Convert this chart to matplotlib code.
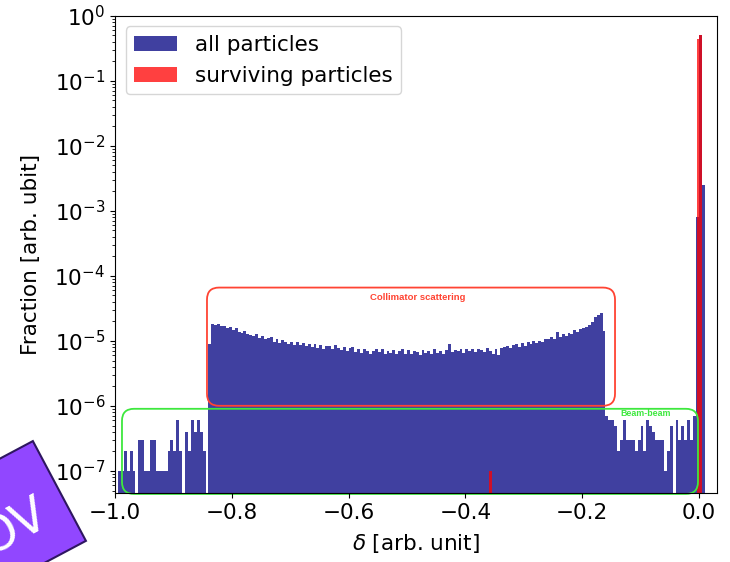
import numpy as np
import matplotlib
matplotlib.use("Agg")
import matplotlib.pyplot as plt
import matplotlib.transforms as mtransforms
from matplotlib.patches import FancyBboxPatch, Rectangle

# ------------------------------------------------------------
# Data: counts per 1e7 tracked particles, bin width 0.005 in delta
# ------------------------------------------------------------
n_particles = 1e7
bin_width = 0.005

# delta in [-1.0, -0.84): sparse tail
tail_counts = [0, 1, 1, 2, 1, 2, 1, 0, 3, 3,
               1, 1, 3, 3, 1, 1, 1, 1, 2, 3,
               2, 6, 2, 0, 4, 2, 6, 4, 6, 4,
               2, 0]

# delta in [-0.84, -0.16): collimator scattering plateau
collimator_counts = [90,
                     182, 176, 180, 170, 172, 158, 166, 148, 156, 138, 132, 140,
                     126, 124, 118, 128, 112, 120, 108, 110, 114, 98, 106, 94,
                     104, 97, 90, 98, 88, 96, 86, 93, 84, 91, 80, 89,
                     78, 86, 76, 84, 83, 74, 86, 79, 72, 80, 70, 77,
                     81, 68, 75, 66, 76, 71, 64, 71, 74, 67, 76, 63,
                     71, 66, 73, 62, 69, 75, 64, 72, 63, 71, 67, 61,
                     73, 65, 70, 62, 74, 66, 71, 64, 72, 91, 67, 73,
                     69, 75, 65, 74, 70, 76, 68, 75, 73, 67, 77, 69,
                     64, 75, 60, 77, 81, 85, 77, 87, 89, 81, 92, 85,
                     96, 90, 99, 93, 101, 95, 106, 108, 116, 109, 137, 117,
                     126, 119, 132, 127, 147, 139, 154, 161, 166, 174, 198, 232,
                     252, 272, 140]

# delta in [-0.16, -0.005): beam-beam
beambeam_counts = [7, 6, 6, 5, 2, 3, 6, 3, 3, 3, 2, 3, 5, 2, 6, 5,
                   4, 3, 3, 3, 1, 2, 5, 0, 6, 3, 5, 3, 6, 3, 7]

# core around delta = 0
core_counts = [8000, 5000000, 25000]

# surviving particles
red_edges = [-0.3595, -0.355, -0.004, 0.0005, 0.0055]
red_fraction = [1e-7, 0.0, 0.44, 0.50]

blue_counts = np.array(tail_counts + collimator_counts + beambeam_counts + core_counts,
                       dtype=float)
blue_fraction = blue_counts / n_particles
blue_edges = -1.0 + bin_width * np.arange(len(blue_counts) + 1)
blue_centers = 0.5 * (blue_edges[:-1] + blue_edges[1:])

red_edges = np.array(red_edges)
red_centers = 0.5 * (red_edges[:-1] + red_edges[1:])

# ------------------------------------------------------------
# Plot
# ------------------------------------------------------------
W, H = 730, 562
fs = 15.5
fig = plt.figure(figsize=(W / 100, H / 100), dpi=100)
ax = fig.add_axes([115 / W, 1 - 493 / H, 602 / W, (493 - 15.7) / H])

ax.hist(blue_centers, bins=blue_edges, weights=blue_fraction,
        color="navy", alpha=0.75, label="all particles")
ax.hist(red_centers, bins=red_edges, weights=red_fraction,
        color="red", alpha=0.75, label="surviving particles")

ax.set_yscale("log")
ax.set_xlim(-1.0, 0.031)
ax.set_ylim(4.6e-8, 1.0)
ax.set_xticks([-1.0, -0.8, -0.6, -0.4, -0.2, 0.0])
ax.tick_params(labelsize=fs)
ax.set_xlabel(r"$\delta$ [arb. unit]", fontsize=fs, labelpad=7)
ax.set_ylabel("Fraction [arb. ubit]", fontsize=fs, labelpad=10)
ax.legend(loc="upper left", fontsize=fs)

# region boxes (axes fraction, rounded corners)
aspect = 602 / 476.3
red_box = FancyBboxPatch((0.1528, 0.1827), 0.8306 - 0.1528, 0.4304 - 0.1827,
                         boxstyle="round,pad=0,rounding_size=0.02",
                         mutation_aspect=aspect, transform=ax.transAxes,
                         facecolor="none", edgecolor="#ff4433", linewidth=1.3)
green_box = FancyBboxPatch((0.0116, -0.002), 0.9684 - 0.0116, 0.1764 + 0.002,
                           boxstyle="round,pad=0,rounding_size=0.02",
                           mutation_aspect=aspect, transform=ax.transAxes,
                           facecolor="none", edgecolor="#3ee83e", linewidth=1.3,
                           clip_on=False)
ax.add_patch(red_box)
ax.add_patch(green_box)

ax.text(-0.481, 4.6e-5, "Collimator scattering", color="#ff4433", fontsize=6.8,
        fontweight="bold", family="Liberation Sans", ha="center", va="center")
ax.text(-0.092, 7.8e-7, "Beam-beam", color="#3ee83e", fontsize=6.4,
        fontweight="bold", family="Liberation Sans", ha="center", va="center")

# purple corner badge
cx, cy, side, ang = 9.5, H - 517.5, 113, 28
badge_tr = mtransforms.Affine2D().rotate_deg(ang).translate(cx, cy).scale(1 / W, 1 / H) + fig.transFigure
badge = Rectangle((-side / 2, -side / 2), side, side, transform=badge_tr,
                  facecolor="#9147ff", edgecolor="#2e1660", linewidth=1.5)
fig.add_artist(badge)
fig.text((cx + 4) / W, (cy - 10) / H, "OV", color="white", fontsize=35, rotation=ang,
         rotation_mode="anchor", ha="center", va="center")

fig.savefig("out.png", dpi=100)
